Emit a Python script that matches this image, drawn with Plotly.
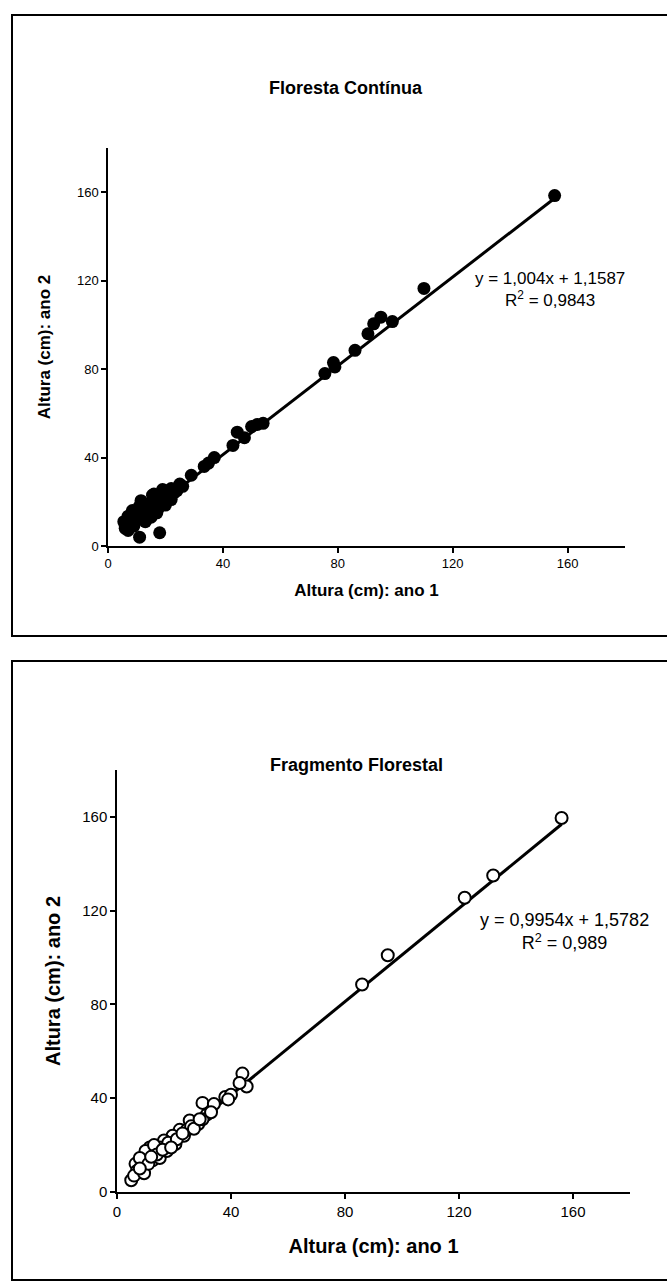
import plotly.graph_objects as go

# ---------------- data ----------------
# Panel 1: Floresta Contínua (filled markers)
fc_ano1 = [155.5, 110, 99, 95, 92.5, 90.5, 86, 78.5, 79, 75.5,
           54, 52, 50, 45, 47.5, 43.5, 37, 35, 29, 25,
           22, 20, 18, 16, 11.5, 11, 18, 6, 5.5, 7,
           8.5, 15.5, 19, 10.5, 14, 17.5, 20, 22, 15, 13,
           9, 16, 18, 12, 10, 8, 14, 16, 19, 21,
           23, 13, 7, 15, 17, 12, 11, 9, 6, 24, 26, 33.5]
fc_ano2 = [158.5, 116.5, 101.5, 103.5, 100.5, 96, 88.5, 83, 81, 78,
           55.5, 55, 54, 51.5, 49, 45.5, 40, 37.5, 32, 28,
           26, 25, 23, 23.5, 20.5, 4, 6, 8, 11, 13.5,
           16, 23, 25.5, 12, 15, 17, 18.5, 21, 19.5, 11,
           9, 22, 20, 17, 14, 10, 18, 16, 22, 23,
           24, 14, 7, 13, 15, 15, 18, 12, 9, 25, 27, 36]

# Panel 2: Fragmento Florestal (open markers)
ff_ano1 = [156, 132, 122, 95, 86, 44, 45.5, 43, 38, 40,
           39, 30, 34, 25.5, 28.5, 31.5, 30, 22, 19.5, 23.5,
           24.5, 16.5, 15, 13.5, 11.5, 10.5, 9, 6.5, 7, 5,
           6, 9.5, 12.5, 15, 17.5, 20.5, 18, 10, 13, 8,
           11, 21, 26, 27, 29, 14, 12, 8, 16, 19, 23, 33]
ff_ano2 = [159.5, 135, 125.5, 101, 88.5, 50.5, 45, 46.5, 40.5, 41.5,
           39.5, 38, 37.5, 30.5, 29, 33, 31, 26.5, 24, 24,
           26.5, 22, 19, 17.5, 19, 16, 12, 12, 9, 5,
           7, 8, 13.5, 14.5, 17.5, 20.5, 21, 17.5, 20, 14.5,
           12, 22.5, 28, 27, 31, 16, 15, 10, 18, 19, 25, 34]

# regression results printed on the chart
fc_slope, fc_intercept, fc_r2 = 1.004, 1.1587, "0,9843"
ff_slope, ff_intercept, ff_r2 = 0.9954, 1.5782, "0,989"
fc_eq = "y = 1,004x + 1,1587"
ff_eq = "y = 0,9954x + 1,5782"

titles = ["Floresta Contínua", "Fragmento Florestal"]
x_title = "Altura (cm): ano 1"
y_title = "Altura (cm): ano 2"
tick_vals = [0, 40, 80, 120, 160]
axis_range = [0, 180]

# ---------------- figure ----------------
W, H = 667, 1286
FONT = "Liberation Sans, Arial, sans-serif"


def px(x):
    return x / W


def py(y):
    return 1 - y / H


def fit_line(xs, slope, intercept):
    x0, x1 = min(xs), max(xs)
    return [x0, x1], [slope * x0 + intercept, slope * x1 + intercept]


fig = go.Figure()

# panel 1
lx, ly = fit_line(fc_ano1, fc_slope, fc_intercept)
fig.add_trace(go.Scatter(x=fc_ano1, y=fc_ano2, mode="markers", xaxis="x", yaxis="y",
                         marker=dict(size=13, color="black", line=dict(width=0)),
                         showlegend=False))
fig.add_trace(go.Scatter(x=lx, y=ly, mode="lines", xaxis="x", yaxis="y",
                         line=dict(color="black", width=3), showlegend=False))

# panel 2
lx2, ly2 = fit_line(ff_ano1, ff_slope, ff_intercept)
fig.add_trace(go.Scatter(x=lx2, y=ly2, mode="lines", xaxis="x2", yaxis="y2",
                         line=dict(color="black", width=3), showlegend=False))
fig.add_trace(go.Scatter(x=ff_ano1, y=ff_ano2, mode="markers", xaxis="x2", yaxis="y2",
                         marker=dict(size=12, color="white", line=dict(width=2, color="black")),
                         showlegend=False))


def axis_style(domain, anchor, size, title, title_size, standoff):
    return dict(domain=domain, anchor=anchor, range=axis_range, tickvals=tick_vals,
                showgrid=False, zeroline=False, showline=True, linecolor="black",
                linewidth=1.5, ticks="outside", ticklen=5, tickwidth=1.5,
                tickcolor="black", tickfont=dict(family=FONT, size=size, color="black"),
                title=dict(text="<b>%s</b>" % title, standoff=standoff,
                           font=dict(family=FONT, size=title_size, color="black")),
                automargin=False, fixedrange=True)


fig.update_layout(
    width=W, height=H,
    margin=dict(l=0, r=0, t=0, b=0),
    paper_bgcolor="white", plot_bgcolor="white",
    xaxis=axis_style([px(108), px(625)], "y", 13, x_title, 17, 14),
    yaxis=axis_style([py(546), py(148)], "x", 13, y_title, 17, 22),
    xaxis2=axis_style([px(117), px(630)], "y2", 15, x_title, 20, 20),
    yaxis2=axis_style([py(1192), py(770)], "x2", 15, y_title, 20, 16),
)

shapes = [
    dict(type="rect", xref="paper", yref="paper", x0=px(12), x1=1.02, y0=py(636), y1=py(15),
         line=dict(color="black", width=2)),
    dict(type="rect", xref="paper", yref="paper", x0=px(12), x1=1.02, y0=py(1280), y1=py(661),
         line=dict(color="black", width=2)),
]


def label(text, x, y, size, angle=0, xref="paper", yref="paper"):
    return dict(text=text, xref=xref, yref=yref, x=x, y=y, xanchor="center", yanchor="middle",
                showarrow=False, textangle=angle, align="center",
                font=dict(family=FONT, size=size, color="black"))


annotations = [
    # titles
    label("<b>%s</b>" % titles[0], px(346), py(88), 18),
    label("<b>%s</b>" % titles[1], px(356), py(765), 18),
    # equations
    label("%s<br>R<sup>2</sup> = %s" % (fc_eq, fc_r2), 154, 116, 17, xref="x", yref="y"),
    label("%s<br>R<sup>2</sup> = %s" % (ff_eq, ff_r2), 157, 111, 18, xref="x2", yref="y2"),
]

fig.update_layout(shapes=shapes, annotations=annotations)

fig.write_html("out.html")
